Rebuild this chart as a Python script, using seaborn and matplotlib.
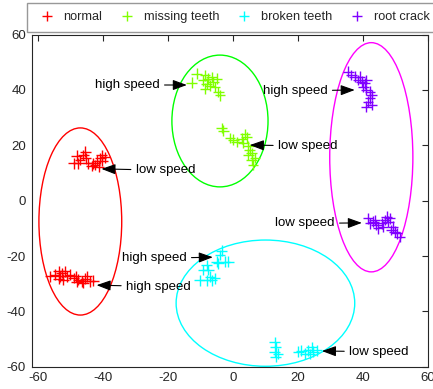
import numpy as np
import pandas as pd
import matplotlib
matplotlib.use("Agg")
import matplotlib.pyplot as plt
from matplotlib.patches import Ellipse
import seaborn as sns

# ---------------- data ----------------
categories = ["normal", "missing teeth", "broken teeth", "root crack"]
point_colors = ["#ff0000", "#80ff00", "#00ffff", "#8000ff"]
ellipse_colors = ["#ff0000", "#00ff00", "#00ffff", "#ff00ff"]

normal_x = [-48.1, -47.1, -46.1, -45.3, -44.5, -43.5, -42.5, -41.9, -40.9, -40.4, -39.4, -41.4,
            -43.0, -47.6, -45.5, -40.2, -49.1,
            -56.3, -54.8, -53.7, -53.2, -52.7, -51.7, -51.2, -52.2, -50.2, -49.1, -48.3, -47.6,
            -46.6, -45.5, -45.0, -44.0, -43.0, -46.1, -48.1, -53.7]
normal_y = [16.2, 14.7, 16.5, 15.3, 13.5, 12.5, 12.9, 14.5, 15.3, 16.5, 15.7, 12.3,
            13.5, 13.5, 17.7, 14.5, 13.5,
            -27.3, -26.7, -25.5, -27.3, -26.1, -25.5, -27.3, -28.5, -26.7, -27.9, -27.3, -28.5,
            -29.1, -28.2, -27.3, -29.1, -28.9, -29.7, -29.4, -28.2]

missing_x = [-12.7, -11.2, -8.6, -7.6, -6.6, -5.0, -8.1, -7.1, -8.6, -4.5, -4.0, -6.1, -9.1, -5.5,
             -3.5, -3.0, -0.9, 0.1, 1.1, 2.7, 3.2, 3.7, 4.2, 4.7, 5.2, 5.8, 5.8, 6.2, 4.7, 6.8]
missing_y = [42.6, 45.9, 45.3, 44.1, 44.7, 44.1, 42.3, 41.5, 40.5, 39.3, 38.1, 42.9, 43.5, 41.1,
             26.3, 25.3, 22.7, 22.0, 21.2, 22.4, 20.9, 24.1, 22.9, 19.7, 18.4, 17.2, 14.8, 13.0, 16.6, 15.4]

broken_x = [-3.5, -4.0, -5.0, -2.5, -1.4, -8.1, -9.1, -7.6, -10.2, -8.1, -6.6, -7.1, -4.5, -5.5,
            12.9, 13.2, 12.9, 13.9, 13.2, 20.1, 21.1, 22.2, 23.2, 24.2, 24.7, 25.8, 23.7]
broken_y = [-18.1, -19.6, -22.0, -22.0, -22.0, -23.2, -25.0, -25.0, -28.7, -28.7, -28.7, -27.5, -22.6, -28.0,
            -51.0, -52.8, -54.6, -55.2, -56.4, -54.6, -54.2, -55.2, -54.0, -52.8, -54.6, -54.0, -55.4]

root_x = [35.5, 36.5, 37.5, 38.6, 39.6, 40.6, 41.1, 40.1, 41.1, 42.2, 42.7, 42.2, 41.6, 41.1, 42.7, 39.1,
          41.6, 42.2, 43.2, 44.2, 44.7, 45.8, 46.8, 47.3, 47.8, 48.3, 48.8, 49.8, 50.4, 49.3, 46.2, 43.7, 51.4]
root_y = [46.6, 45.4, 44.8, 43.6, 43.0, 42.4, 43.6, 41.2, 40.0, 39.4, 38.2, 37.0, 35.8, 34.0, 34.6, 44.8,
          -6.4, -8.2, -7.6, -8.8, -10.0, -8.2, -7.0, -5.8, -7.6, -6.4, -10.6, -11.2, -11.8, -9.4, -9.4, -7.0, -13.1]

# ellipses: center x, center y, full width, full height
ell_cx = [-47.0, -4.0, 10.0, 42.6]
ell_cy = [-7.5, 28.8, -37.0, 15.7]
ell_w = [25.5, 29.6, 55.0, 25.6]
ell_h = [67.6, 47.6, 45.6, 82.8]

# annotations: label, arrow tip (x, y), text position (x, y), alignment
ann_text = ["low speed", "high speed", "high speed", "low speed",
            "high speed", "low speed", "high speed", "low speed"]
ann_tip_x = [-40.5, -42.0, -14.2, 5.2, 37.5, 39.7, -6.2, 27.4]
ann_tip_y = [11.5, -30.5, 41.8, 20.1, 40.0, -8.0, -20.4, -54.3]
ann_txt_x = [-30.0, -33.0, -22.5, 13.8, 29.2, 31.4, -14.2, 35.7]
ann_txt_y = [11.0, -31.0, 41.8, 19.8, 39.7, -8.2, -20.8, -54.5]
ann_ha = ["left", "left", "right", "left", "right", "right", "right", "left"]

xticks = [-60, -40, -20, 0, 20, 40, 60]
yticks = [-60, -40, -20, 0, 20, 40, 60]

# ---------------- build frame ----------------
df = pd.concat([
    pd.DataFrame({"x": normal_x, "y": normal_y, "class": categories[0]}),
    pd.DataFrame({"x": missing_x, "y": missing_y, "class": categories[1]}),
    pd.DataFrame({"x": broken_x, "y": broken_y, "class": categories[2]}),
    pd.DataFrame({"x": root_x, "y": root_y, "class": categories[3]}),
], ignore_index=True)

sns.set_theme(style="white")
plt.rcParams["font.family"] = ["Liberation Sans", "DejaVu Sans"]
plt.rcParams["axes.unicode_minus"] = False

fig = plt.figure(figsize=(4.33, 3.89), dpi=100)
ax = fig.add_axes([0.073, 0.057, 0.915, 0.854])

sns.scatterplot(data=df, x="x", y="y", hue="class", hue_order=categories,
                palette=point_colors, marker="+", s=60, linewidth=1.0,
                ax=ax, legend=True, zorder=3)

for cx, cy, w, h, c in zip(ell_cx, ell_cy, ell_w, ell_h, ellipse_colors):
    ax.add_patch(Ellipse((cx, cy), w, h, fill=False, edgecolor=c, lw=1.0, zorder=2))

for t, tx, ty, px, py, ha in zip(ann_text, ann_tip_x, ann_tip_y, ann_txt_x, ann_txt_y, ann_ha):
    ax.annotate(t, xy=(tx, ty), xytext=(px, py), ha=ha, va="center", fontsize=9.5,
                color="black",
                arrowprops=dict(arrowstyle="-|>,head_length=0.9,head_width=0.33",
                                color="black", lw=0.8, shrinkA=1, shrinkB=0),
                zorder=4)

ax.set_xlim(-62, 60)
ax.set_ylim(-60, 60)
ax.set_xticks(xticks)
ax.set_yticks(yticks)
ax.set_xlabel("")
ax.set_ylabel("")
ax.tick_params(direction="in", top=True, right=True, length=4, width=0.8,
               labelsize=9.5, labelcolor="#262626", color="#262626", pad=4)
for sp in ax.spines.values():
    sp.set_color("#262626")
    sp.set_linewidth(0.8)

handles, labels = ax.get_legend_handles_labels()
ax.get_legend().remove()
leg = fig.legend(handles, labels, loc="upper left", bbox_to_anchor=(27 / 433, 1 - 3 / 389),
                 ncol=4, frameon=True, fontsize=9.2, handlelength=1.8, handletextpad=0.4,
                 columnspacing=1.05, borderpad=0.65, fancybox=False, markerscale=1.0,
                 borderaxespad=0)
leg.get_frame().set_edgecolor("#7f7f7f")
leg.get_frame().set_linewidth(1.0)

fig.savefig("out.png", dpi=100)
